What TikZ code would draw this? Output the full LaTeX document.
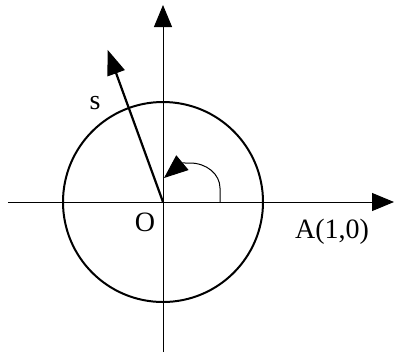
\documentclass[tikz,border=0pt]{standalone}
\usepackage{fontspec}
\setmainfont{Liberation Serif}
\usetikzlibrary{arrows.meta, positioning}

\begin{document}
\begin{tikzpicture}[x=100pt, y=100pt,
        axis/.style = {line width=1pt, -{Triangle[length=22pt,width=18pt]}},
        lbl/.style = {font=\fontsize{28}{32}\selectfont}]
        \useasboundingbox (-1.63,-1.50) rectangle (2.33,2.02);
        \coordinate (O) at (0,0);
        \coordinate (xl) at (-1.55,0);
        \coordinate (xr) at (2.31,0);
        \coordinate (yb) at (0,-1.50);
        \coordinate (yt) at (0,1.97);
        \coordinate (s) at (110:1.62);
        \coordinate (a0) at (0.57,0);
        \coordinate (a1) at (0.57,0.14);
        \coordinate (a3) at (0.01,0.24);
        \draw[axis] (xl) -- (xr);
        \draw[axis] (yb) -- (yt);
        \draw[line width=2pt] (O) circle (1);
        \draw[line width=2.2pt, -{Triangle[length=25pt,width=18pt]}] (O) -- (s);
        % angle from OA to s
        \draw[line width=1pt, -{Triangle[length=24pt,width=19pt]}] (a0) -- (a1) arc[start angle=0, end angle=90, x radius=0.30, y radius=0.25] coordinate (a2) .. controls (0.19,0.39) .. (a3);
        \node[lbl] (sl) at (-0.68,0.99) {s};
        \node[lbl] (ol) at (-0.18,-0.20) {O};
        \node[lbl] (al) at (1.69,-0.30) {A(1,0)};
    \end{tikzpicture}
\end{document}
